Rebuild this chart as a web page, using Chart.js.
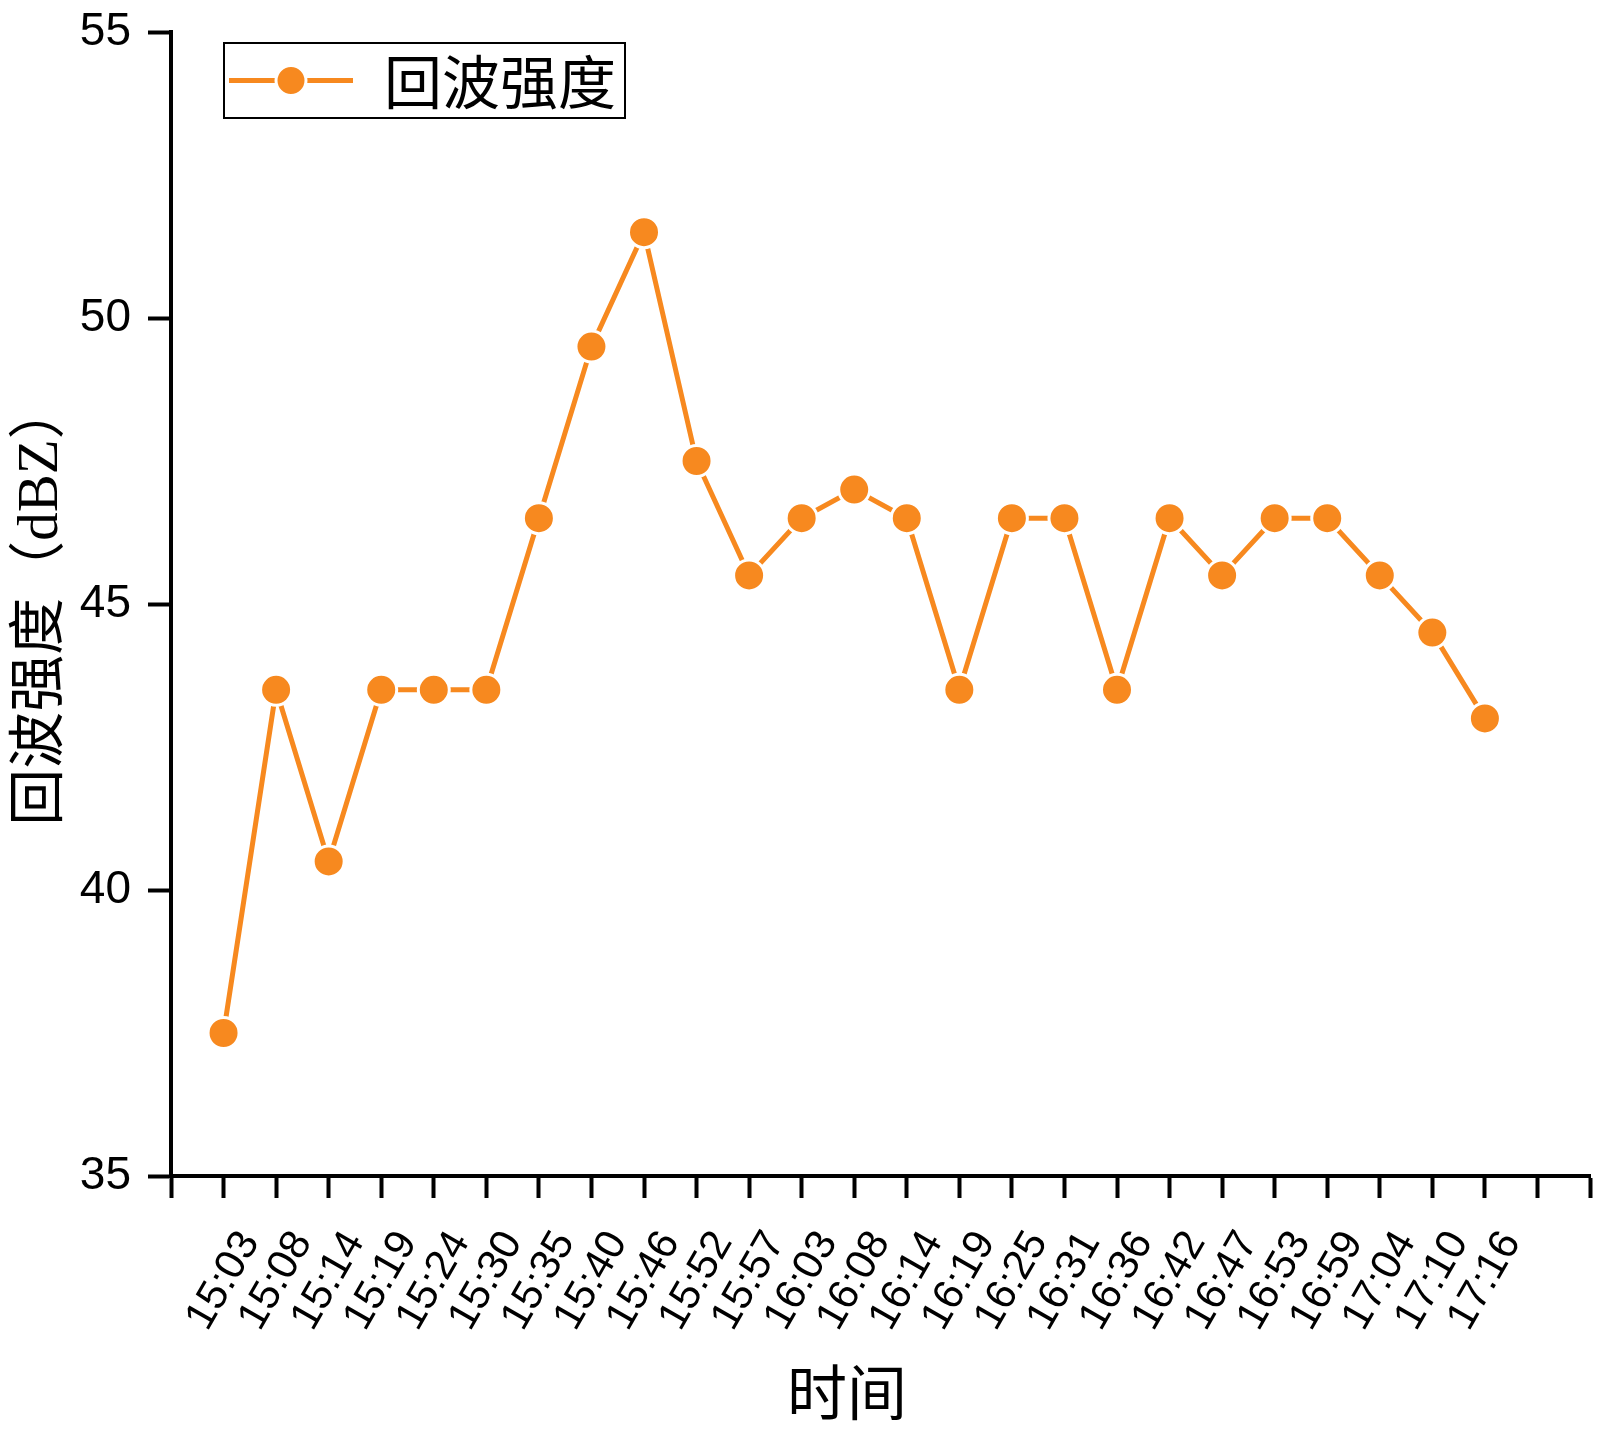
<!DOCTYPE html>
<html>
<head>
<meta charset="utf-8">
<script src="https://cdn.jsdelivr.net/npm/chart.js@4.4.1/dist/chart.umd.min.js"></script>
<style>
  html, body { margin: 0; padding: 0; background: #ffffff; }
  #wrap { width: 1600px; height: 1431px; }
</style>
</head>
<body>
<div id="wrap"><canvas id="c" width="1600" height="1431"></canvas></div>
<script>
// ---- data ----
const timeLabels = ["15:03","15:08","15:14","15:19","15:24","15:30","15:35","15:40","15:46","15:52","15:57","16:03","16:08","16:14","16:19","16:25","16:31","16:36","16:42","16:47","16:53","16:59","17:04","17:10","17:16"];
const echoValues = [37.5,43.5,40.5,43.5,43.5,43.5,46.5,49.5,51.5,47.5,45.5,46.5,47.0,46.5,43.5,46.5,46.5,43.5,46.5,45.5,46.5,46.5,45.5,44.5,43.0];
const yTicks = [35,40,45,50,55];
const seriesName = "回波强度";
const xTitle = "时间";
const yTitle = "回波强度（dBZ）";
const xMin = 0, xMax = 27;

const ORANGE = '#F7891F';
const CJK = '"Noto Sans CJK SC", "Noto Sans CJK JP", sans-serif';

const points = echoValues.map((v, i) => ({ x: i + 1, y: v }));

const decorPlugin = {
  id: 'decor',
  afterDraw(chart) {
    const ctx = chart.ctx;
    const xs = chart.scales.x;
    ctx.save();
    ctx.fillStyle = '#000';
    // x tick labels (rotated, centred under tick)
    ctx.font = '42px "Liberation Sans", Arial, sans-serif';
    ctx.textAlign = 'center';
    ctx.textBaseline = 'middle';
    timeLabels.forEach((lab, i) => {
      const px = xs.getPixelForValue(i + 1);
      ctx.save();
      ctx.translate(px, 1281);
      ctx.rotate(-60 * Math.PI / 180);
      ctx.fillText(lab, 0, 0);
      ctx.restore();
    });
    // x title
    ctx.font = '60px ' + CJK;
    ctx.fillText(xTitle, 847, 1392);
    // y title
    ctx.save();
    ctx.translate(42, 604);
    ctx.rotate(-Math.PI / 2);
    ctx.font = '57px "Liberation Serif", ' + CJK;
    ctx.fillText(yTitle, 0, 0);
    ctx.restore();
    // legend
    ctx.lineWidth = 2;
    ctx.strokeStyle = '#000';
    ctx.strokeRect(224, 43, 401, 75);
    ctx.strokeStyle = ORANGE;
    ctx.lineWidth = 5;
    ctx.beginPath();
    ctx.moveTo(229, 80.5);
    ctx.lineTo(353, 80.5);
    ctx.stroke();
    ctx.beginPath();
    ctx.arc(291, 80.5, 15, 0, Math.PI * 2);
    ctx.fillStyle = ORANGE;
    ctx.fill();
    ctx.strokeStyle = '#fff';
    ctx.lineWidth = 3;
    ctx.stroke();
    ctx.fillStyle = '#000';
    ctx.textAlign = 'left';
    ctx.font = '58px ' + CJK;
    ctx.fillText(seriesName, 384, 82);
    ctx.restore();
  }
};

new Chart(document.getElementById('c'), {
  type: 'line',
  data: {
    datasets: [{
      label: seriesName,
      data: points,
      borderColor: ORANGE,
      backgroundColor: ORANGE,
      borderWidth: 5,
      tension: 0,
      pointRadius: 15.5,
      pointHoverRadius: 15.5,
      pointBackgroundColor: ORANGE,
      pointBorderColor: '#ffffff',
      pointBorderWidth: 3,
      clip: false
    }]
  },
  options: {
    responsive: false,
    animation: false,
    events: [],
    layout: { autoPadding: false, padding: { top: 32, right: 10, bottom: 0, left: 0 } },
    plugins: { legend: { display: false }, tooltip: { enabled: false }, title: { display: false } },
    scales: {
      x: {
        type: 'linear',
        min: xMin,
        max: xMax,
        afterBuildTicks(scale) {
          const t = [];
          for (let v = xMin; v <= xMax; v++) t.push({ value: v });
          scale.ticks = t;
        },
        afterFit(scale) { scale.height = 255; scale.paddingLeft = 0; scale.paddingRight = 0; },
        ticks: { autoSkip: false, maxRotation: 0, minRotation: 0, callback: () => '' },
        grid: { display: true, drawOnChartArea: false, drawTicks: true, tickLength: 22, tickWidth: 4, tickColor: '#000' },
        border: { display: true, color: '#000', width: 4 }
      },
      y: {
        type: 'linear',
        min: 35,
        max: 55,
        afterBuildTicks(scale) { scale.ticks = yTicks.map(v => ({ value: v })); },
        afterFit(scale) { scale.width = 171; scale.paddingTop = 0; scale.paddingBottom = 0; },
        ticks: {
          color: '#000',
          padding: 17,
          font: { family: '"Liberation Sans", Arial, sans-serif', size: 46 },
          callback: (v) => String(v)
        },
        grid: { display: true, drawOnChartArea: false, drawTicks: true, tickLength: 23, tickWidth: 4, tickColor: '#000' },
        border: { display: true, color: '#000', width: 4 }
      }
    }
  },
  plugins: [decorPlugin]
});
</script>
</body>
</html>
